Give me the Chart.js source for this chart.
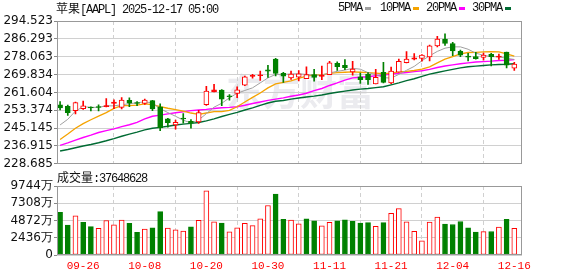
<!DOCTYPE html>
<html><head><meta charset="utf-8">
<script src="https://cdn.jsdelivr.net/npm/chart.js@4.4.1/dist/chart.umd.min.js"></script>
<style>
html,body{margin:0;padding:0;background:#fff;}
#wrap{position:relative;width:578px;height:276px;overflow:hidden;background:#fff;}
canvas{position:absolute;left:0;}
.t{position:absolute;white-space:nowrap;line-height:14px;font-size:12px;color:#111;}
.a{font-family:"Liberation Mono",monospace;letter-spacing:-1.2px;}
.c{font-family:"Noto Sans CJK SC",sans-serif;}
.sq{position:absolute;width:6px;height:3px;top:7px;}
</style></head><body>
<div id="wrap">
<canvas id="pc" width="578" height="172" style="top:0"></canvas>
<canvas id="vc" width="578" height="104" style="top:172px"></canvas>
<div class="t" style="left:56px;top:1px"><span class="c">苹果</span><span class="a">[AAPL] 2025-12-17 05:00</span></div>
<div class="t a" style="left:338px;top:1px">5PMA</div><div class="sq" style="left:365px;background:#a0a0a0"></div>
<div class="t a" style="left:380px;top:1px">10PMA</div><div class="sq" style="left:413px;background:#f5a300"></div>
<div class="t a" style="left:426px;top:1px">20PMA</div><div class="sq" style="left:459px;background:#ff00ff"></div>
<div class="t a" style="left:472px;top:1px">30PMA</div><div class="sq" style="left:505px;background:#006b33"></div>
<div class="t" style="left:57px;top:170px"><span class="c">成交量</span><span class="a">:37648628</span></div>
</div>
<script>
// ---- data ----
const dates = ['09-23','09-24','09-25','09-26','09-29','09-30','10-01','10-02','10-03','10-06','10-07','10-08','10-09','10-10','10-13','10-14','10-15','10-16','10-17','10-20','10-21','10-22','10-23','10-24','10-27','10-28','10-29','10-30','10-31','11-03','11-04','11-05','11-06','11-07','11-10','11-11','11-12','11-13','11-14','11-17','11-18','11-19','11-20','11-21','11-24','11-25','11-26','11-28','12-01','12-02','12-03','12-04','12-05','12-08','12-09','12-10','12-11','12-12','12-15','12-16'];
const openP  = [255.88,255.22,253.21,254.10,254.56,254.86,255.04,256.58,254.67,257.99,256.81,256.52,257.81,254.94,249.38,246.60,249.49,248.25,248.02,255.89,261.88,262.65,259.94,261.19,264.88,268.99,269.28,271.99,276.99,270.42,268.33,268.61,267.89,269.80,268.96,269.81,275.00,274.11,271.05,268.82,269.99,265.53,270.83,265.95,270.90,275.27,276.96,277.26,278.01,283.00,286.20,284.10,280.54,278.13,278.16,277.75,279.10,277.90,280.15,272.82];
const highP  = [257.34,255.74,257.17,257.60,255.00,255.92,258.79,258.18,259.24,259.07,257.40,258.52,258.00,256.38,249.69,248.85,251.82,249.04,253.38,264.38,265.29,262.85,260.62,264.13,269.12,269.89,271.41,274.14,277.32,270.85,271.49,271.70,273.40,272.29,273.73,275.91,275.73,276.70,275.96,270.49,270.71,272.21,275.43,273.33,277.00,280.38,279.53,279.00,283.42,287.40,288.62,284.73,281.14,279.67,280.03,279.75,279.59,279.22,280.15,275.50];
const lowP   = [253.58,251.04,251.71,253.78,253.01,253.11,254.93,254.15,253.95,255.05,255.43,256.11,253.14,244.00,245.56,244.70,247.47,245.13,247.27,255.63,261.83,255.43,258.01,259.18,264.65,268.15,267.11,268.48,269.16,266.25,267.62,266.93,267.89,266.77,267.46,269.80,271.70,272.09,269.60,265.73,265.32,265.50,265.92,265.67,270.90,275.25,276.63,275.99,276.14,282.63,283.30,278.59,278.05,276.15,276.92,276.44,273.81,276.82,272.84,271.79];
const closeP = [254.43,252.31,256.87,255.46,254.43,254.63,255.45,257.13,258.02,256.69,256.48,258.06,254.04,245.27,247.66,247.77,249.34,247.45,252.29,262.24,262.77,258.45,259.58,262.82,268.81,269.00,269.70,271.40,270.37,269.05,270.04,270.14,269.77,268.47,269.43,275.25,273.47,272.95,272.41,267.46,267.44,268.56,266.25,271.49,275.92,276.97,277.55,278.85,283.10,286.19,284.15,280.70,278.78,277.89,277.18,278.78,278.03,278.28,274.11,274.61];
const prevClose = 256.08;
const volume = [6030,4230,5520,4610,4010,3770,4870,4260,4920,4470,3190,3650,3830,6120,3810,3550,3390,3980,4910,9050,4670,4500,3280,3830,4490,4150,5110,6990,8620,5020,4930,4390,5120,4820,4130,4620,4840,4960,4740,4500,4570,4040,4580,5900,6560,4690,3340,2010,4660,5370,4350,4310,4730,3820,3220,3300,3320,3950,5040,3765];
const ma5  = [246.6,249.2,253.0,255.0,254.7,254.7,255.4,255.4,255.9,256.4,256.8,257.3,256.7,254.1,252.3,250.6,248.8,247.5,248.9,251.8,254.8,256.6,259.1,261.2,262.5,263.7,266.0,268.3,269.9,269.9,270.1,270.2,269.9,269.5,269.6,270.6,271.3,271.9,272.7,272.3,270.7,269.8,268.4,268.2,269.9,271.8,273.6,276.2,278.5,280.5,282.0,282.6,282.6,281.5,279.7,278.7,278.1,278.0,277.3,276.8];
const ma10 = [239.9,242.4,245.1,247.2,249.0,250.7,252.3,254.2,255.5,255.5,255.7,256.3,256.0,255.0,254.3,253.7,253.0,252.1,251.5,252.1,252.7,252.7,253.3,255.0,257.2,259.3,261.3,263.7,265.5,266.2,266.9,268.1,269.1,269.7,269.7,270.4,270.7,270.9,271.1,270.9,270.7,270.5,270.2,270.5,271.1,271.3,271.7,272.3,273.4,275.2,276.9,278.1,279.4,280.0,280.1,280.3,280.4,280.3,279.4,278.3];
const ma20 = [237.2,238.3,239.6,240.8,241.9,243.1,244.0,244.8,245.8,246.7,247.8,249.4,250.6,251.1,251.7,252.2,252.7,253.2,253.5,253.8,254.2,254.5,254.7,255.0,255.7,256.5,257.2,257.9,258.5,259.1,259.8,260.4,261.2,262.4,263.4,264.8,266.0,267.3,268.3,268.6,268.8,269.3,269.6,270.1,270.4,270.8,271.2,271.6,272.2,273.1,273.8,274.3,274.8,275.2,275.6,275.8,276.0,276.3,276.4,276.7];
const ma30 = [234.6,235.3,236.1,236.9,237.6,238.4,239.3,240.3,241.4,242.4,243.3,244.3,245.1,245.5,246.0,246.6,247.0,247.3,247.7,248.5,249.4,250.5,251.5,252.4,253.5,254.5,255.6,256.7,257.5,257.9,258.5,259.0,259.5,259.9,260.4,261.1,261.7,262.2,262.7,263.1,263.4,263.8,264.2,265.1,266.0,267.0,267.9,269.0,270.0,270.8,271.5,272.2,272.9,273.4,273.7,274.0,274.3,274.5,274.6,274.8];
const priceTicks = [228.685,236.915,245.145,253.374,261.604,269.834,278.063,286.293,294.523];
const volTicks = [0,2436,4872,7308,9744];
const labelIdx = [3,11,19,27,35,43,51,59];

// ---- styles ----
const UP = '#ff0000', DN = '#008000';
const idx = dates.map((d, i) => i);
const candleUp = idx.map(i => closeP[i] >= openP[i]);
const volUp = idx.map(i => closeP[i] >= (i === 0 ? prevClose : closeP[i - 1]));

const frame = {
  id: 'frame',
  afterDatasetsDraw(c) {
    const a = c.chartArea, ctx = c.ctx;
    ctx.save(); ctx.strokeStyle = '#999'; ctx.lineWidth = 1;
    ctx.strokeRect(Math.round(a.left) + 0.5, Math.round(a.top) + 0.5, Math.round(a.right - a.left) - 1, Math.round(a.bottom - a.top) - 1);
    ctx.restore();
  }
};
const watermark = {
  id: 'watermark',
  beforeDraw(c) {
    const ctx = c.ctx; ctx.save();
    ctx.font = 'bold 37px "Noto Sans CJK SC"'; ctx.fillStyle = '#ebebef';
    ctx.textBaseline = 'alphabetic'; ctx.fillText('东方财富', 226, 106);
    ctx.restore();
  }
};

const xBase = (showLabels) => ({
  type: 'linear', min: -0.4, max: 60, offset: false,
  afterBuildTicks: s => { s.ticks = labelIdx.map(v => ({ value: v })); },
  ticks: { display: showLabels, callback: v => dates[v], color: UP, padding: 4, maxRotation: 0, autoSkip: false,
           font: { family: 'Liberation Mono', size: 11 } },
  grid: { color: '#d0d0d0', drawTicks: false, lineWidth: 1 },
  border: { display: false, dash: [4, 3] },
  afterFit: s => { s.height = showLabels ? 21 : 0; }
});
const yFont = { family: 'DejaVu Sans', size: 12 };

new Chart(document.getElementById('pc'), {
  type: 'bar',
  data: {
    datasets: [
      { type: 'line', label: '5PMA', data: idx.map(i => ({ x: i, y: ma5[i] })), borderColor: '#a0a0a0', borderWidth: 1, pointRadius: 0, order: 3 },
      { type: 'line', label: '10PMA', data: idx.map(i => ({ x: i, y: ma10[i] })), borderColor: '#f5a300', borderWidth: 1.3, pointRadius: 0, order: 3 },
      { type: 'line', label: '20PMA', data: idx.map(i => ({ x: i, y: ma20[i] })), borderColor: '#ff00ff', borderWidth: 1.4, pointRadius: 0, order: 3 },
      { type: 'line', label: '30PMA', data: idx.map(i => ({ x: i, y: ma30[i] })), borderColor: '#006b33', borderWidth: 1.4, pointRadius: 0, order: 3 },
      { type: 'bar', label: 'wick', data: idx.map(i => ({ x: i, y: [lowP[i], highP[i]] })),
        backgroundColor: idx.map(i => candleUp[i] ? UP : DN), borderWidth: 0, barThickness: 1, grouped: false, minBarLength: 1, order: 2 },
      { type: 'bar', label: 'body', data: idx.map(i => ({ x: i, y: [openP[i], closeP[i]] })),
        backgroundColor: idx.map(i => candleUp[i] ? (Math.abs(closeP[i] - openP[i]) < 0.9 ? UP : '#ffffff') : DN),
        borderColor: idx.map(i => candleUp[i] ? UP : DN), borderWidth: 1, borderSkipped: false,
        barThickness: 5, grouped: false, minBarLength: 1, order: 1 }
    ]
  },
  options: {
    responsive: false, animation: false, devicePixelRatio: 1,
    layout: { padding: { left: 0, right: 56, top: 21, bottom: 7 } },
    plugins: { legend: { display: false }, tooltip: { enabled: false } },
    scales: {
      x: xBase(false),
      y: {
        min: 228.685, max: 294.523,
        afterBuildTicks: s => { s.ticks = priceTicks.map(v => ({ value: v })); },
        ticks: { callback: v => v.toFixed(3), color: '#111', font: yFont, padding: 1, autoSkip: false },
        grid: { color: '#d0d0d0', tickColor: '#888', tickLength: 3 },
        border: { display: false },
        afterFit: s => { s.width = 57; }
      }
    }
  },
  plugins: [watermark, frame]
});

new Chart(document.getElementById('vc'), {
  type: 'bar',
  data: {
    datasets: [{
      label: '成交量', data: idx.map(i => ({ x: i, y: volume[i] })),
      backgroundColor: idx.map(i => volUp[i] ? '#ffffff' : DN),
      borderColor: idx.map(i => volUp[i] ? UP : DN), borderWidth: 1, borderSkipped: false,
      barThickness: 5, grouped: false
    }]
  },
  options: {
    responsive: false, animation: false, devicePixelRatio: 1,
    layout: { padding: { left: 0, right: 56, top: 14, bottom: 0 } },
    plugins: { legend: { display: false }, tooltip: { enabled: false } },
    scales: {
      x: xBase(true),
      y: {
        min: 0, max: 9744,
        afterBuildTicks: s => { s.ticks = volTicks.map(v => ({ value: v })); },
        ticks: { callback: v => v === 0 ? '0' : v + '万', color: '#111', font: yFont, padding: 1, autoSkip: false },
        grid: { color: '#d0d0d0', tickColor: '#888', tickLength: 3 },
        border: { display: false },
        afterFit: s => { s.width = 57; }
      }
    }
  },
  plugins: [frame]
});
</script>
</body></html>
